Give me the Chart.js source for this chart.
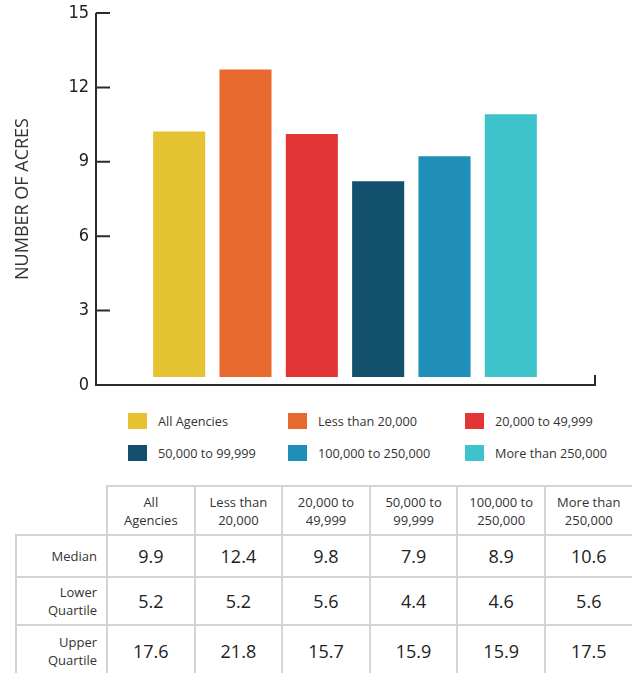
<!DOCTYPE html>
<html lang="en">
<head>
<meta charset="UTF-8" />
<title>Number of acres</title>
<script src="https://cdn.jsdelivr.net/npm/chart.js@4.4.0/dist/chart.umd.min.js"></script>
<style>
  html, body { margin: 0; padding: 0; background: #fff; width: 632px; height: 673px; overflow: hidden; }
  body { font-family: "Open Sans", sans-serif; color: #333; position: relative; }
  #chartBox { position: absolute; left: 0; top: 0; width: 632px; height: 400px; }
  #legend { position: absolute; left: 128px; top: 411px; display: grid; grid-template-columns: 160px 177px 150px; row-gap: 12px; }
  .item { display: flex; align-items: center; height: 20px; font-size: 12.7px; color: #333; white-space: nowrap; }
  .item .box { width: 19px; height: 16px; margin-right: 11px; flex: none; }
  #stats { position: absolute; left: 15px; top: 485px; border-collapse: collapse; table-layout: fixed; width: 617px; }
  #stats th, #stats td { border: 2px solid #d4d4d4; padding: 0; }
  #stats thead th { font-size: 13px; font-weight: normal; line-height: 18px; height: 47px; white-space: pre-line; text-align: center; color: #333; }
  #stats thead th.blank { border: none; }
  #stats tbody th { font-size: 13px; font-weight: normal; line-height: 18px; text-align: right; padding-right: 9px; white-space: pre-line; color: #333; }
  #stats tbody td { font-size: 18px; text-align: center; color: #222; }
</style>
</head>
<body>
  <div id="chartBox"><canvas id="acres"></canvas></div>
  <div id="legend"></div>
  <table id="stats"></table>

<script>
  const categories = ["All Agencies", "Less than 20,000", "20,000 to 49,999", "50,000 to 99,999", "100,000 to 250,000", "More than 250,000"];
  const tableHeads = ["All\nAgencies", "Less than\n20,000", "20,000 to\n49,999", "50,000 to\n99,999", "100,000 to\n250,000", "More than\n250,000"];
  const medians = [9.9, 12.4, 9.8, 7.9, 8.9, 10.6];
  const lowerQuartile = [5.2, 5.2, 5.6, 4.4, 4.6, 5.6];
  const upperQuartile = [17.6, 21.8, 15.7, 15.9, 15.9, 17.5];
  const rowNames = ["Median", "Lower\nQuartile", "Upper\nQuartile"];
  const yTicks = [0, 3, 6, 9, 12, 15];
  const colors = ["#e4c232", "#e8692f", "#e43536", "#12506e", "#1f8fb9", "#3ec3ca"];

  // axis lines sit outside the bar area, ticks point inward
  const axisLines = {
    id: "axisLines",
    afterDatasetsDraw(chart) {
      const { ctx, chartArea: a, scales: { y } } = chart;
      const x0 = a.left - 50, x1 = a.right + 51;
      ctx.save();
      ctx.strokeStyle = "#2b2b2b";
      ctx.lineWidth = 2;
      ctx.beginPath();
      ctx.moveTo(x0, a.top);
      ctx.lineTo(x0, a.bottom);
      ctx.lineTo(x1, a.bottom);
      ctx.lineTo(x1, a.bottom - 10);
      y.ticks.forEach(t => {
        const py = y.getPixelForValue(t.value);
        ctx.moveTo(x0, py);
        ctx.lineTo(x0 + 14, py);
      });
      ctx.stroke();
      ctx.restore();
    }
  };

  new Chart("acres", {
    type: "bar",
    data: {
      labels: categories,
      datasets: [{
        data: medians,
        backgroundColor: colors,
        yAxisID: "yb",
        barPercentage: 0.785,
        categoryPercentage: 1
      }]
    },
    options: {
      responsive: true,
      maintainAspectRatio: false,
      animation: false,
      layout: { padding: { top: 13, bottom: 15, left: 0, right: 88 } },
      plugins: { legend: { display: false }, tooltip: { enabled: false } },
      scales: {
        x: { display: false },
        y: {
          position: "left",
          min: 0, max: 15,
          afterBuildTicks: s => { s.ticks = yTicks.map(v => ({ value: v })); },
          afterFit: s => { s.width = 146; s.paddingTop = 0; s.paddingBottom = 0; },
          grid: { display: false, drawTicks: false },
          border: { display: false },
          ticks: { padding: 57, color: "#222", font: { family: "'Liberation Sans Narrow', 'DejaVu Sans Condensed', sans-serif", size: 18 } },
          title: { display: true, text: "NUMBER OF ACRES", color: "#333", padding: { top: 12, bottom: 0 }, font: { family: "'Open Sans', sans-serif", size: 18 } }
        },
        // bars rest slightly above the drawn baseline
        yb: { display: false, position: "left", min: -0.32, max: 14.68 }
      }
    },
    plugins: [axisLines]
  });

  const legend = document.getElementById("legend");
  categories.forEach((c, i) => {
    const it = document.createElement("div");
    it.className = "item";
    it.innerHTML = `<span class="box" style="background:${colors[i]}"></span><span>${c}</span>`;
    legend.appendChild(it);
  });

  const rows = [medians, lowerQuartile, upperQuartile];
  const rowHeights = [42, 48, 52];
  let html = `<colgroup><col style="width:91px">${categories.map(() => '<col style="width:87.6px">').join("")}</colgroup>`;
  html += `<thead><tr><th class="blank"></th>${tableHeads.map(h => `<th>${h}</th>`).join("")}</tr></thead><tbody>`;
  rows.forEach((r, i) => {
    html += `<tr style="height:${rowHeights[i]}px"><th>${rowNames[i]}</th>${r.map(v => `<td>${v.toFixed(1)}</td>`).join("")}</tr>`;
  });
  html += "</tbody>";
  document.getElementById("stats").innerHTML = html;
</script>
</body>
</html>
